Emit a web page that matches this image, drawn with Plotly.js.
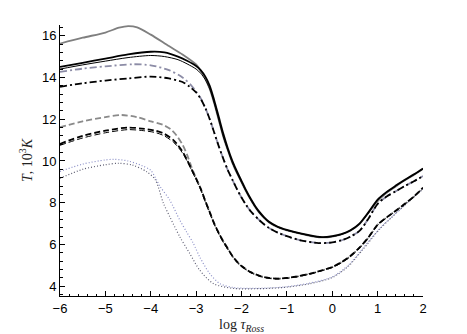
<!DOCTYPE html>
<html>
<head>
<meta charset="utf-8">
<script src="https://cdn.plot.ly/plotly-3.0.1.min.js"></script>
<style>
html, body { margin: 0; padding: 0; background: #fff; }
#plot { width: 467px; height: 334px; }
</style>
</head>
<body>
<div id="plot"></div>
<script>
// log tau_Ross vs T (10^3 K)

// gray solid
const xGraySolid = [-6, -5.5, -5, -4.7, -4.5, -4.3, -4.0, -3.6, -3.3, -3.0, -2.9, -2.8, -2.7, -2.6, -2.5, -2.4, -2.3, -2.2, -2.1, -2.0, -1.9, -1.8, -1.7, -1.6, -1.5, -1.4, -1.2, -1.0, -0.7, -0.4, -0.2, 0.0, 0.2, 0.4, 0.6, 0.8, 1.0, 1.2, 1.4, 1.6, 1.8, 2.0];
const tGraySolid = [15.62, 15.9, 16.15, 16.38, 16.46, 16.4, 16.05, 15.5, 15.1, 14.62, 14.32, 13.95, 13.45, 12.75, 11.95, 11.15, 10.5, 9.9, 9.42, 8.98, 8.55, 8.15, 7.8, 7.5, 7.27, 7.07, 6.83, 6.68, 6.52, 6.38, 6.34, 6.38, 6.48, 6.66, 6.98, 7.52, 8.08, 8.48, 8.78, 9.08, 9.33, 9.62];

// black solid, thick
const xBlackSolid = [-6, -5.5, -5, -4.5, -4.0, -3.7, -3.4, -3.2, -3.0, -2.9, -2.8, -2.7, -2.6, -2.5, -2.4, -2.3, -2.2, -2.1, -2.0, -1.9, -1.8, -1.7, -1.6, -1.5, -1.4, -1.2, -1.0, -0.7, -0.4, -0.2, 0.0, 0.2, 0.4, 0.6, 0.8, 1.0, 1.2, 1.4, 1.6, 1.8, 2.0];
const tBlackSolid = [14.5, 14.7, 14.9, 15.1, 15.23, 15.2, 15.0, 14.8, 14.55, 14.35, 14.05, 13.6, 12.9, 12.1, 11.3, 10.6, 10.0, 9.5, 9.05, 8.6, 8.2, 7.85, 7.55, 7.3, 7.1, 6.85, 6.7, 6.53, 6.4, 6.35, 6.4, 6.5, 6.68, 7.0, 7.55, 8.15, 8.52, 8.82, 9.1, 9.36, 9.64];

// black solid, thin
const xBlackThin = [-6, -5.5, -5, -4.5, -4.0, -3.7, -3.4, -3.2, -3.0, -2.9, -2.8, -2.7, -2.6, -2.5, -2.4, -2.3, -2.2, -2.1, -2.0, -1.9, -1.8, -1.7, -1.6, -1.5, -1.4, -1.2, -1.0, -0.7, -0.4, -0.2, 0.0, 0.2, 0.4, 0.6, 0.8, 1.0, 1.2, 1.4, 1.6, 1.8, 2.0];
const tBlackThin = [14.4, 14.6, 14.78, 14.95, 15.05, 15.0, 14.85, 14.65, 14.4, 14.2, 13.9, 13.45, 12.75, 11.95, 11.15, 10.5, 9.9, 9.42, 8.98, 8.55, 8.15, 7.8, 7.5, 7.27, 7.07, 6.83, 6.68, 6.52, 6.38, 6.34, 6.38, 6.48, 6.66, 6.98, 7.52, 8.12, 8.5, 8.8, 9.08, 9.34, 9.62];

// gray dash-dot
const xGrayDashDot = [-6, -5.5, -5, -4.4, -4.0, -3.6, -3.3, -3.1, -3.0, -2.9, -2.8, -2.7, -2.6, -2.5, -2.4, -2.3, -2.2, -2.1, -2.0, -1.9, -1.8, -1.6, -1.4, -1.2, -1.0, -0.7, -0.3, 0.0, 0.2, 0.4, 0.6, 0.8, 1.0, 1.2, 1.4, 1.6, 1.8, 2.0];
const tGrayDashDot = [14.27, 14.42, 14.53, 14.63, 14.58, 14.35, 14.0, 13.6, 13.32, 13.0, 12.55, 12.0, 11.35, 10.7, 10.1, 9.55, 9.1, 8.65, 8.25, 7.9, 7.6, 7.15, 6.8, 6.57, 6.4, 6.2, 6.07, 6.1, 6.2, 6.38, 6.65, 7.25, 7.95, 8.3, 8.55, 8.8, 9.03, 9.28];

// black dash-dot
const xBlackDashDot = [-6, -5.5, -5, -4.5, -4.0, -3.6, -3.3, -3.14, -3.0, -2.9, -2.8, -2.7, -2.6, -2.5, -2.4, -2.3, -2.2, -2.1, -2.0, -1.9, -1.8, -1.6, -1.4, -1.2, -1.0, -0.7, -0.3, 0.0, 0.2, 0.4, 0.6, 0.8, 1.0, 1.2, 1.4, 1.6, 1.8, 2.0];
const tBlackDashDot = [13.55, 13.72, 13.85, 13.95, 14.04, 13.95, 13.78, 13.55, 13.28, 12.98, 12.55, 12.0, 11.35, 10.7, 10.1, 9.55, 9.1, 8.65, 8.25, 7.9, 7.6, 7.15, 6.8, 6.57, 6.4, 6.2, 6.07, 6.1, 6.2, 6.38, 6.65, 7.25, 7.95, 8.3, 8.55, 8.8, 9.03, 9.28];

// gray dashed
const xGrayDash = [-6, -5.5, -5, -4.65, -4.3, -4.0, -3.72, -3.55, -3.43, -3.3, -3.2, -3.1, -3.0, -2.9, -2.8, -2.7, -2.6, -2.5, -2.4, -2.3, -2.2, -2.1, -2.0, -1.8, -1.6, -1.4, -1.2, -1.0, -0.8, -0.5, -0.2, 0.0, 0.2, 0.4, 0.6, 0.8, 1.0, 1.2, 1.4, 1.6, 1.8, 2.0];
const tGrayDash = [11.62, 11.9, 12.1, 12.2, 12.1, 11.9, 11.72, 11.5, 11.22, 10.78, 10.3, 9.7, 9.17, 8.68, 8.1, 7.55, 7.0, 6.55, 6.15, 5.8, 5.45, 5.18, 4.97, 4.68, 4.5, 4.4, 4.37, 4.4, 4.46, 4.6, 4.78, 4.92, 5.15, 5.45, 5.85, 6.35, 6.95, 7.3, 7.62, 7.95, 8.3, 8.72];

// black dashed (two close lines)
const xBlackDash = [-6, -5.5, -5, -4.5, -4.2, -3.9, -3.7, -3.5, -3.4, -3.3, -3.2, -3.1, -3.0, -2.9, -2.8, -2.7, -2.6, -2.5, -2.4, -2.3, -2.2, -2.1, -2.0, -1.8, -1.6, -1.4, -1.2, -1.0, -0.8, -0.5, -0.2, 0.0, 0.2, 0.4, 0.6, 0.8, 1.0, 1.2, 1.4, 1.6, 1.8, 2.0];
const tBlackDash = [10.82, 11.2, 11.45, 11.6, 11.55, 11.45, 11.3, 11.0, 10.75, 10.45, 10.05, 9.6, 9.15, 8.68, 8.1, 7.55, 7.0, 6.55, 6.15, 5.8, 5.45, 5.18, 4.97, 4.68, 4.5, 4.4, 4.37, 4.4, 4.46, 4.6, 4.78, 4.92, 5.15, 5.45, 5.85, 6.35, 6.95, 7.3, 7.62, 7.95, 8.3, 8.72];
const tBlackDash2 = [10.75, 11.1, 11.35, 11.5, 11.46, 11.36, 11.2, 10.9, 10.67, 10.38, 10.0, 9.55, 9.1, 8.63, 8.05, 7.5, 6.96, 6.5, 6.1, 5.76, 5.42, 5.15, 4.95, 4.66, 4.48, 4.38, 4.35, 4.38, 4.44, 4.58, 4.76, 4.9, 5.12, 5.42, 5.82, 6.32, 6.92, 7.28, 7.6, 7.93, 8.28, 8.7];

// dotted, bluish
const xDotBlue = [-6, -5.5, -5, -4.8, -4.5, -4.2, -4.0, -3.8, -3.58, -3.36, -3.21, -3.06, -2.92, -2.7, -2.48, -2.18, -1.8, -1.4, -1.0, -0.5, 0.0, 0.35, 0.67, 1.05, 1.3, 1.6, 2.0];
const tDotBlue = [9.5, 9.85, 10.05, 10.08, 10.0, 9.78, 9.55, 8.8, 8.12, 7.17, 6.6, 6.05, 5.4, 4.61, 4.13, 3.94, 3.9, 3.92, 3.98, 4.15, 4.45, 5.0, 5.8, 6.78, 7.3, 7.9, 8.68];

// dotted, dark
const xDotDark = [-6, -5.5, -5, -4.7, -4.4, -4.1, -3.9, -3.72, -3.58, -3.36, -3.14, -2.92, -2.62, -2.19, -1.8, -1.4, -1.0, -0.5, 0.0, 0.35, 0.67, 1.05, 1.3, 1.6, 2.0];
const tDotDark = [9.17, 9.6, 9.82, 9.89, 9.8, 9.5, 9.1, 7.97, 7.33, 6.37, 5.57, 4.77, 4.13, 3.9, 3.88, 3.9, 3.96, 4.12, 4.42, 4.95, 5.75, 6.75, 7.28, 7.88, 8.66];

function line(x, y, color, width, dash) {
    return {
        x: x, y: y,
        type: 'scatter',
        mode: 'lines',
        line: { color: color, width: width, dash: dash, shape: 'spline', smoothing: 0.8 },
        hoverinfo: 'skip'
    };
}

const traces = [
    line(xDotBlue, tDotBlue, '#8c90c8', 1.2, '1px,2px'),
    line(xDotDark, tDotDark, '#5e5e72', 1.2, '1px,2px'),
    line(xGrayDash, tGrayDash, '#8a8a8a', 1.8, '6px,3px'),
    line(xBlackDash, tBlackDash2, '#000000', 1.0, '6px,3px'),
    line(xBlackDash, tBlackDash, '#000000', 1.8, '6px,3px'),
    line(xGrayDashDot, tGrayDashDot, '#8c8ca6', 1.8, '7px,3px,2px,3px'),
    line(xBlackDashDot, tBlackDashDot, '#000000', 1.8, '7px,3px,2px,3px'),
    line(xGraySolid, tGraySolid, '#7f7f7f', 1.8, 'solid'),
    line(xBlackThin, tBlackThin, '#000000', 1.0, 'solid'),
    line(xBlackSolid, tBlackSolid, '#000000', 1.8, 'solid')
];

const tickFont = { family: 'Liberation Sans, Arial, sans-serif', size: 13, color: '#000' };
const titleFont = { family: 'Liberation Serif, Times New Roman, serif', size: 14, color: '#222' };

const layout = {
    width: 467,
    height: 334,
    margin: { l: 60, r: 44, t: 25, b: 38 },
    paper_bgcolor: 'white',
    plot_bgcolor: 'white',
    showlegend: false,
    xaxis: {
        range: [-6, 2],
        dtick: 1,
        ticks: 'inside',
        ticklen: 5,
        tickwidth: 1,
        tickcolor: '#000',
        showline: true,
        linecolor: '#000',
        linewidth: 1,
        showgrid: false,
        zeroline: false,
        tickfont: tickFont,
        minor: { dtick: 0.2, ticks: 'inside', ticklen: 2.5, tickcolor: '#000', showgrid: false },
        title: { text: 'log <i>τ</i><sub><i>Ross</i></sub>', font: titleFont, standoff: 6 }
    },
    yaxis: {
        range: [3.535, 16.51],
        tick0: 0,
        dtick: 2,
        ticks: 'inside',
        ticklen: 5,
        tickwidth: 1,
        tickcolor: '#000',
        showline: true,
        linecolor: '#000',
        linewidth: 1,
        showgrid: false,
        zeroline: false,
        tickfont: tickFont,
        minor: { tick0: 0, dtick: 0.4, ticks: 'inside', ticklen: 2.5, tickcolor: '#000', showgrid: false },
        title: { text: '<i>T</i>, 10<sup>3</sup><i>K</i>', font: titleFont, standoff: 6 }
    }
};

Plotly.newPlot('plot', traces, layout, { staticPlot: true, displayModeBar: false });
</script>
</body>
</html>
